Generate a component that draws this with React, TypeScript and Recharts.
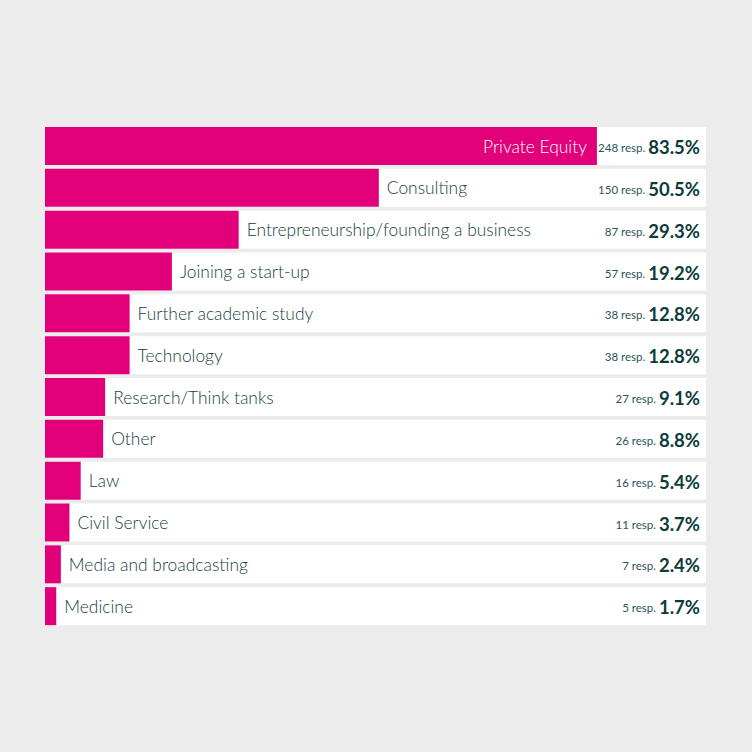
import { BarChart, Bar, XAxis, YAxis, LabelList } from 'recharts'

const categories = [
  'Private Equity',
  'Consulting',
  'Entrepreneurship/founding a business',
  'Joining a start-up',
  'Further academic study',
  'Technology',
  'Research/Think tanks',
  'Other',
  'Law',
  'Civil Service',
  'Media and broadcasting',
  'Medicine',
]
const responses = [248, 150, 87, 57, 38, 38, 27, 26, 16, 11, 7, 5]
const percents = [83.5, 50.5, 29.3, 19.2, 12.8, 12.8, 9.1, 8.8, 5.4, 3.7, 2.4, 1.7]

const data = categories.map((name, i) => ({ name, resp: responses[i], pct: percents[i] }))

const PINK = '#e2007a'
const FONT = 'Lato, "Open Sans", sans-serif'

function RowLabel(props: any) {
  const { x, y, width, height, index } = props
  const d = data[index]
  const cy = y + height / 2
  const inside = d.pct > 60
  const end = x + width
  return (
    <g fontFamily={FONT}>
      <text
        x={inside ? end - 10 : end + 8}
        y={cy}
        textAnchor={inside ? 'end' : 'start'}
        dominantBaseline="central"
        fontSize={17.4}
        fontWeight={300}
        fill={inside ? '#ffffff' : '#153f41'}
      >
        {d.name}
      </text>
      <text x={700} y={cy + 1} textAnchor="end" dominantBaseline="central" fill="#0d3b3d">
        <tspan fontSize={11.5} fill="#2a5557">{d.resp} resp.</tspan>
        <tspan fontSize={18.5} fontWeight={700} dx={3}>{d.pct.toFixed(1)}%</tspan>
      </text>
    </g>
  )
}

export default function App() {
  return (
    <div style={{ position: 'absolute', left: 0, top: 0, width: 752, height: 752, background: '#ececec' }}>
      <BarChart
        width={752}
        height={752}
        data={data}
        layout="vertical"
        margin={{ top: 125, right: 46, bottom: 125, left: 45 }}
        barCategoryGap={0}
      >
        <XAxis type="number" domain={[0, 100]} hide />
        <YAxis type="category" dataKey="name" hide width={0} />
        <Bar
          dataKey="pct"
          fill={PINK}
          barSize={38}
          background={{ fill: '#ffffff' }}
          isAnimationActive={false}
        >
          <LabelList dataKey="pct" content={RowLabel} />
        </Bar>
      </BarChart>
    </div>
  )
}
